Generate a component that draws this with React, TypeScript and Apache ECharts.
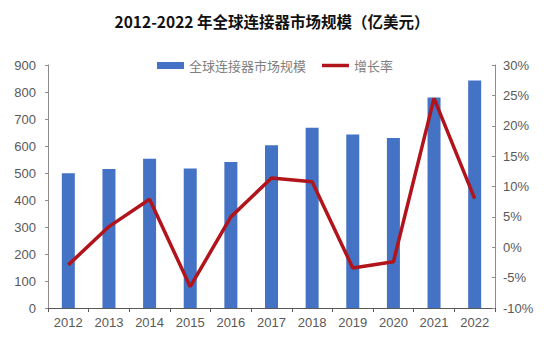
import React, { useEffect, useRef } from "react";
import * as echarts from "echarts";

const years = ["2012", "2013", "2014", "2015", "2016", "2017", "2018", "2019", "2020", "2021", "2022"];
const marketSize = [499, 515, 553, 517, 541, 603, 668, 643, 630, 780, 843];
const growthRate = [-2.9, 3.4, 7.9, -6.5, 5.0, 11.4, 10.8, -3.4, -2.4, 24.5, 8.0];

export default function App() {
  const ref = useRef<HTMLDivElement>(null);
  useEffect(() => {
    const chart = echarts.init(ref.current!, null, { renderer: "svg" });
    const axisText = { color: "#595959", fontSize: 13, fontFamily: "Liberation Sans, Arial, sans-serif" };
    chart.setOption({
      animation: false,
      backgroundColor: "#ffffff",
      title: {
        text: "2012-2022 年全球连接器市场规模（亿美元）",
        left: "center",
        top: 8,
        textStyle: { fontSize: 15.5, fontWeight: "bold", color: "#111", fontFamily: "Noto Sans CJK SC, sans-serif" },
      },
      legend: {
        top: 54,
        left: 152,
        itemGap: 16,
        itemWidth: 27,
        itemHeight: 7,
        symbolKeepAspect: true,
        textStyle: { color: "#7f7f7f", fontSize: 13, fontFamily: "Noto Sans CJK SC, sans-serif" },
        data: [
          { name: "全球连接器市场规模", icon: "rect" },
          { name: "增长率", icon: "path://M0,0 H28 V3.6 H0 Z", itemStyle: { color: "#B2141C" } },
        ],
      },
      grid: { left: 48, right: 49, top: 65, bottom: 50 },
      xAxis: {
        type: "category",
        data: years,
        axisLine: { lineStyle: { color: "#595959" } },
        axisTick: { show: true, length: 4, lineStyle: { color: "#595959" } },
        axisLabel: { ...axisText, margin: 8 },
      },
      yAxis: [
        {
          type: "value",
          min: 0,
          max: 900,
          interval: 100,
          axisLine: { show: true, lineStyle: { color: "#8c8c8c" } },
          axisTick: { show: true, length: 3, lineStyle: { color: "#8c8c8c" } },
          splitLine: { show: false },
          axisLabel: { ...axisText, margin: 12 },
        },
        {
          type: "value",
          min: -10,
          max: 30,
          interval: 5,
          position: "right",
          axisLine: { show: true, lineStyle: { color: "#8c8c8c" } },
          axisTick: { show: true, length: 3, inside: true, lineStyle: { color: "#8c8c8c" } },
          splitLine: { show: false },
          axisLabel: { ...axisText, margin: 8, formatter: (v: number) => v + "%" },
        },
      ],
      series: [
        {
          name: "全球连接器市场规模",
          type: "bar",
          data: marketSize,
          barWidth: 13,
          itemStyle: { color: "#4472C4" },
        },
        {
          name: "增长率",
          type: "line",
          yAxisIndex: 1,
          data: growthRate,
          symbol: "none",
          lineStyle: { color: "#B2141C", width: 3.5 },
          itemStyle: { color: "#B2141C" },
        },
      ],
    });
    return () => chart.dispose();
  }, []);
  return <div ref={ref} style={{ position: "fixed", left: 0, top: 0, width: 544, height: 358 }} />;
}
